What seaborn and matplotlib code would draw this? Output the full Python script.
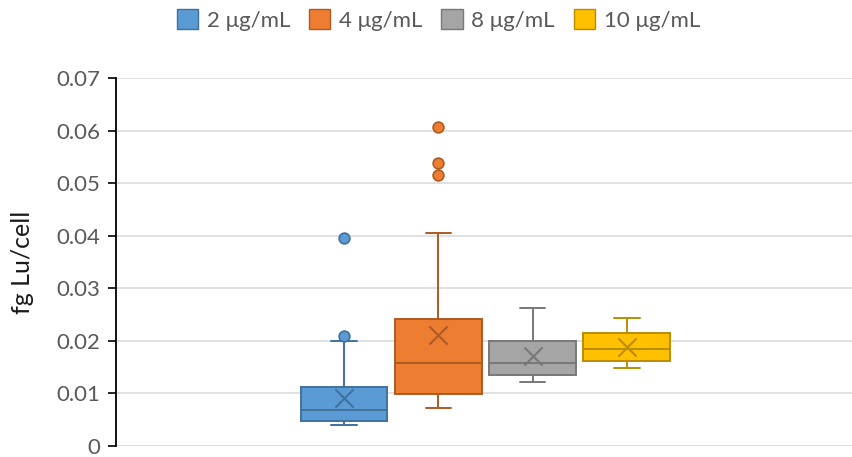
import matplotlib
matplotlib.use("Agg")
import matplotlib.pyplot as plt
import matplotlib.patches as mpatches
from matplotlib.ticker import FuncFormatter
import seaborn as sns
import pandas as pd

# ---- data ----
groups = ["2 μg/mL", "4 μg/mL", "8 μg/mL", "10 μg/mL"]
whis_lo = [0.0040, 0.0072, 0.0121, 0.0148]
q1 = [0.0048, 0.0099, 0.0135, 0.0162]
medians = [0.0069, 0.0158, 0.0158, 0.0185]
q3 = [0.0113, 0.0242, 0.0200, 0.0215]
whis_hi = [0.0200, 0.0405, 0.0263, 0.0244]
means = [0.0092, 0.0211, 0.0171, 0.0189]
outliers = [[0.0209, 0.0396], [0.0515, 0.0538, 0.0606], [], []]

face_colors = ["#5B9BD5", "#ED7D31", "#A5A5A5", "#FFC000"]
edge_colors = ["#41719C", "#AE5A21", "#787878", "#BC8C00"]

sns.set_style("white")
plt.rcParams["font.family"] = ["Lato", "DejaVu Sans"]

W, H = 852, 457
fig = plt.figure(figsize=(W / 100, H / 100), dpi=100)
ax_left, ax_right, ax_top, ax_bottom = 116, 852, 78, 446
ax = fig.add_axes([ax_left / W, 1 - ax_bottom / H, (ax_right - ax_left) / W, (ax_bottom - ax_top) / H])

positions = list(range(len(groups)))
stats = []
for i, g in enumerate(groups):
    stats.append(dict(label=g, whislo=whis_lo[i], q1=q1[i], med=medians[i], q3=q3[i],
                      whishi=whis_hi[i], mean=means[i], fliers=[]))

art = ax.bxp(stats, positions=positions, widths=0.922, patch_artist=True, showfliers=False,
             showmeans=False, capwidths=0.27, manage_ticks=False, zorder=3)
for i in range(len(groups)):
    art["boxes"][i].set_facecolor(face_colors[i])
    art["boxes"][i].set_edgecolor(edge_colors[i])
    art["boxes"][i].set_linewidth(1.4)
    art["medians"][i].set_color(edge_colors[i])
    art["medians"][i].set_linewidth(1.4)
    for k in (2 * i, 2 * i + 1):
        art["whiskers"][k].set_color(edge_colors[i])
        art["whiskers"][k].set_linewidth(1.4)
        art["caps"][k].set_color(edge_colors[i])
        art["caps"][k].set_linewidth(1.4)

# means (x markers) and outliers via seaborn
mean_df = pd.DataFrame({"pos": positions, "val": means, "grp": groups})
for i in range(len(groups)):
    sub = mean_df[mean_df.grp == groups[i]]
    sns.scatterplot(data=sub, x="pos", y="val", marker="x", s=170, color=edge_colors[i],
                    linewidth=1.5, ax=ax, zorder=5, legend=False)

out_rows = [(positions[i], v, groups[i]) for i in range(len(groups)) for v in outliers[i]]
out_df = pd.DataFrame(out_rows, columns=["pos", "val", "grp"])
for i in range(len(groups)):
    sub = out_df[out_df.grp == groups[i]]
    if len(sub):
        sns.scatterplot(data=sub, x="pos", y="val", marker="o", s=60, color=face_colors[i],
                        edgecolor=edge_colors[i], linewidth=1.2, ax=ax, zorder=6, legend=False)

# axes styling
spacing = 94.3
center0 = 344
ax.set_xlim(-(center0 - ax_left) / spacing, (ax_right - center0) / spacing)
ax.set_ylim(0, 0.07)
ax.set_yticks([0, 0.01, 0.02, 0.03, 0.04, 0.05, 0.06, 0.07])
ax.yaxis.set_major_formatter(FuncFormatter(lambda v, p: "0" if abs(v) < 1e-12 else f"{v:.2f}"))
ax.set_xticks([])
ax.set_xlabel("")
ax.set_ylabel("")
ax.grid(axis="y", color="#D9D9D9", linewidth=1.1, zorder=0)
ax.set_axisbelow(True)
for s in ("top", "right", "bottom"):
    ax.spines[s].set_visible(False)
ax.spines["left"].set_color("#000000")
ax.spines["left"].set_linewidth(1.3)
ax.spines["left"].set_zorder(4)
ax.tick_params(axis="y", direction="out", length=6, width=1.2, color="#000000",
               labelsize=16, labelcolor="#595959", pad=5, left=True)

fig.text(23 / W, 1 - 262 / H, "fg Lu/cell", rotation=90, ha="center", va="center",
         fontsize=18, color="#1a1a1a")

handles = [mpatches.Patch(facecolor=face_colors[i], edgecolor=edge_colors[i], linewidth=1.0,
                          label=groups[i]) for i in range(len(groups))]
leg = fig.legend(handles=handles, loc="center", bbox_to_anchor=(438.5 / W, 1 - 20 / H), ncol=4,
                 frameon=False, fontsize=16, handlelength=0.95, handleheight=0.95,
                 handletextpad=0.4, columnspacing=0.85, borderaxespad=0, borderpad=0)
for t in leg.get_texts():
    t.set_color("#595959")

fig.savefig("out.png", dpi=100)
